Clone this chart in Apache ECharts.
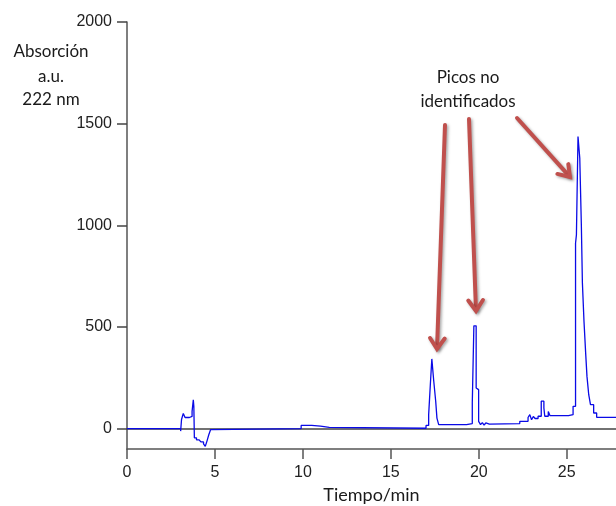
<!DOCTYPE html>
<html>
<head>
<meta charset="utf-8">
<script src="https://cdn.jsdelivr.net/npm/echarts@6/dist/echarts.min.js"></script>
<style>
  html, body { margin: 0; padding: 0; background: #fff; }
  #main { width: 616px; height: 506px; }
</style>
</head>
<body>
<div id="main"></div>
<script>
// retention time (min) where each step starts, and absorbance held from there
var tiempo = [0, 3.05, 3.1, 3.2, 3.3, 3.55, 3.7, 3.77, 3.8, 3.83, 3.95, 4.1, 4.2, 4.35, 4.45, 4.55, 4.65, 4.75, 4.85,
  9.9, 10.5, 11.0, 11.5,
  17.0, 17.15, 17.25, 17.33, 17.44, 17.55, 17.62, 17.72,
  19.3, 19.63, 19.72, 19.85, 19.93, 19.99, 20.1, 20.2, 20.3, 20.4, 20.5, 20.6,
  22.33, 22.8, 22.9, 23.0, 23.1, 23.2, 23.37, 23.55, 23.7, 23.75, 23.95, 24.05, 24.2,
  25.1, 25.36, 25.5, 25.55, 25.64, 25.74, 25.83, 25.89, 25.98, 26.08, 26.15, 26.25, 26.35, 26.53, 26.7, 27.8];
var absorcion = [0, -12, 45, 75, 55, 60, 85, 142, 110, -45, -55, -58, -65, -75, -87, -60, -30, -5, 0,
  16, 12, 6, 2,
  16, 69, 225, 343, 233, 135, 52, 20,
  25, 126, 506, 200, 192, 36, 20, 30, 18, 28, 22, 25,
  36, 55, 69, 44, 60, 50, 61, 135, 102, 61, 85, 64, 64,
  69, 110, 912, 953, 1437, 1331, 1002, 716, 528, 364, 257, 167, 118, 77, 56, 52, 52];
var yTicks = [0, 500, 1000, 1500, 2000];
var xTicks = [0, 5, 10, 15, 20, 25];

var chart = echarts.init(document.getElementById('main'));

var puntos = tiempo.map(function (t, i) { return [t, absorcion[i]]; });

var rojo = '#c0504d';
function flecha(x1, y1, x2, y2) {
  var ang = Math.atan2(y2 - y1, x2 - x1);
  var len = 13, ala = 0.6;
  var a = [x2 - len * Math.cos(ang - ala), y2 - len * Math.sin(ang - ala)];
  var b = [x2 - len * Math.cos(ang + ala), y2 - len * Math.sin(ang + ala)];
  var sombra = { shadowBlur: 3, shadowColor: 'rgba(0,0,0,0.35)', shadowOffsetX: 1.5, shadowOffsetY: 1.5 };
  return [
    { type: 'line', shape: { x1: x1, y1: y1, x2: x2 - 1.5 * Math.cos(ang), y2: y2 - 1.5 * Math.sin(ang) },
      style: Object.assign({ stroke: rojo, lineWidth: 4, lineCap: 'round' }, sombra) },
    { type: 'polyline', shape: { points: [a, [x2, y2], b] },
      style: Object.assign({ stroke: rojo, lineWidth: 4, lineCap: 'round', lineJoin: 'miter', fill: null }, sombra) }
  ];
}

var etiqueta = { fontFamily: 'Lato', fontSize: 17, fill: '#1a1a1a', align: 'center', verticalAlign: 'middle' };
function texto(t, x, y) {
  return { type: 'text', style: Object.assign({}, etiqueta, { text: t, x: x, y: y }) };
}

chart.setOption({
  animation: false,
  grid: { left: 127, top: 22, right: 0, bottom: 57, outerBoundsMode: 'none' },
  xAxis: [{
    type: 'value', min: 0, max: 27.8, interval: 5,
    name: 'Tiempo/min', nameLocation: 'middle', nameGap: 37,
    nameTextStyle: { fontFamily: 'Lato', fontSize: 18, color: '#1a1a1a' },
    axisLine: { onZero: false, lineStyle: { color: '#555', width: 1.5 } },
    axisTick: { show: true, length: 10, customValues: xTicks, lineStyle: { color: '#555', width: 1.5 } },
    axisLabel: { customValues: xTicks, margin: 16, fontFamily: 'Liberation Sans', fontSize: 16, color: '#222' },
    splitLine: { show: false }
  }, {
    type: 'value', position: 'top', min: 0, max: 27.8,
    axisLine: { show: true, lineStyle: { color: '#444', width: 1.5 } },
    axisTick: { show: false }, axisLabel: { show: false }, splitLine: { show: false }
  }],
  yAxis: {
    type: 'value', min: -100, max: 2000,
    axisLine: { show: true, lineStyle: { color: '#555', width: 1.5 } },
    axisTick: { show: true, length: 10, customValues: yTicks, lineStyle: { color: '#444', width: 1.5 } },
    axisLabel: {
      customValues: yTicks, margin: 15, fontFamily: 'Liberation Sans', fontSize: 16, color: '#222',
      formatter: function (v) { return String(v); }
    },
    splitLine: { show: false }
  },
  series: [{
    type: 'line', step: 'end', data: puntos, showSymbol: false,
    lineStyle: { color: '#0a0ae6', width: 1.3 }
  }],
  graphic: [
    texto('Absorción', 51, 52),
    texto('a.u.', 51, 77),
    texto('222 nm', 51, 100),
    texto('Picos no', 468, 78),
    texto('identificados', 468, 102)
  ]
    .concat(flecha(445, 125, 437, 349))
    .concat(flecha(469, 119, 476, 311))
    .concat(flecha(517, 118, 570, 177))
});
</script>
</body>
</html>
